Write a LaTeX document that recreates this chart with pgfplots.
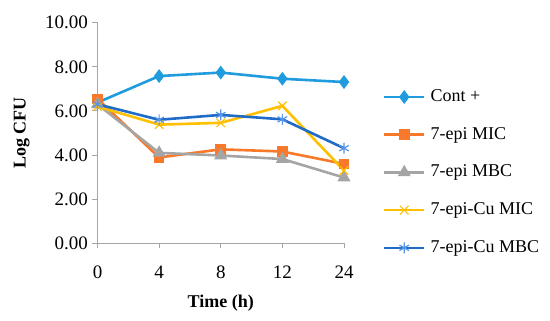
\documentclass[border=0pt]{standalone}
\usepackage{pgfplots}
\pgfplotsset{compat=1.18}
\usepackage{fontspec}
\setmainfont{Liberation Serif}
\definecolor{cont}{HTML}{1F9BDE}
\definecolor{orng}{HTML}{F9792A}
\definecolor{gry}{HTML}{A5A5A5}
\definecolor{gold}{HTML}{FFC000}
\definecolor{dblue}{HTML}{1E6CC8}
\definecolor{sblue}{HTML}{5594E8}
\definecolor{axgray}{HTML}{A6A6A6}
\newcommand{\fs}{\fontsize{18bp}{21.6bp}\selectfont}
\newcommand{\ft}{\fontsize{19bp}{22bp}\selectfont}
\begin{document}
\begin{tikzpicture}
\useasboundingbox (0,0) rectangle (550bp,321bp);
\begin{axis}[
  at={(97.5bp,77.7bp)}, anchor=south west,
  scale only axis, width=246.5bp, height=220.6bp,
  xmin=0, xmax=4, ymin=0, ymax=10,
  clip=false,
  axis lines=left,
  axis line style={-, draw=axgray, line width=0.9bp},
  tick style={draw=axgray, line width=0.9bp},
  tick align=outside, major tick length=5bp,
  xtick={0,1,2,3,4}, xticklabels={0,4,8,12,24},
  ytick={0,2,4,6,8,10},
  /pgf/number format/assume math mode=true,
  yticklabel={\pgfmathprintnumber[fixed,fixed zerofill,precision=2]{\tick}},
  ticklabel style={font=\ft, inner sep=0pt},
  yticklabel style={anchor=east, xshift=-4.5bp},
  xticklabel style={anchor=north, yshift=-17.5bp},
  xlabel={Time (h)}, ylabel={Log CFU},
  label style={font=\fs\bfseries},
  xlabel style={at={(axis description cs:0.5,-0.293)}, anchor=base, inner sep=0pt},
  ylabel style={at={(axis description cs:-0.292,0.5)}, anchor=base, inner sep=0pt},
  legend image code/.code={\draw[mark repeat=2,mark phase=2,#1] plot coordinates {(0bp,0bp) (20bp,0bp) (40bp,0bp)};},
  legend style={at={(axis description cs:1.158,0.7017)}, anchor=north west, draw=none, fill=none,
    font=\fs, inner sep=0pt, outer sep=0pt,
    nodes={inner sep=0pt, text height=13bp, text depth=4bp},
    row sep=20.7bp, column sep=5bp},
  legend cell align=left,
  every axis plot/.append style={line width=2.6bp},
]
\addplot[cont, mark=diamond*, mark size=4.8bp, mark options={solid}] coordinates {(0,6.38) (1,7.58) (2,7.74) (3,7.46) (4,7.31)};
\addlegendentry{Cont +}
\addplot[orng, mark=square*, mark size=4bp] coordinates {(0,6.55) (1,3.89) (2,4.26) (3,4.16) (4,3.60)};
\addlegendentry{7-epi MIC}
\addplot[gry, mark=triangle*, mark size=5bp] coordinates {(0,6.30) (1,4.10) (2,3.98) (3,3.82) (4,2.98)};
\addlegendentry{7-epi MBC}
\addplot[gold, mark=x, mark size=6bp, mark options={line width=1.2bp}] coordinates {(0,6.20) (1,5.38) (2,5.46) (3,6.23) (4,3.30)};
\addlegendentry{7-epi-Cu MIC}
\addplot[dblue, mark=asterisk, mark size=5.5bp, mark options={draw=sblue, line width=1.2bp}] coordinates {(0,6.30) (1,5.60) (2,5.82) (3,5.62) (4,4.31)};
\addlegendentry{7-epi-Cu MBC}
\end{axis}
\end{tikzpicture}
\end{document}
